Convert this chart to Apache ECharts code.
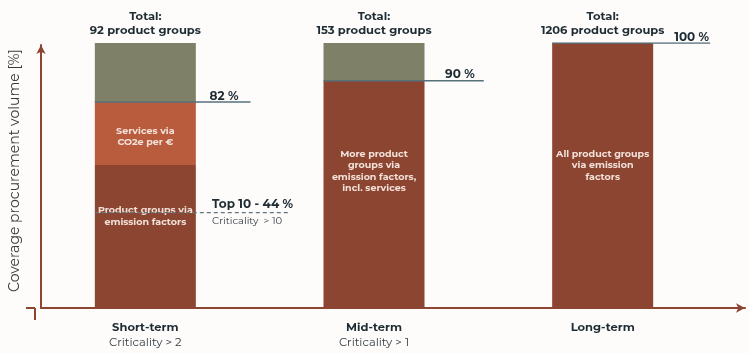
<!DOCTYPE html>
<html>
<head>
<meta charset="utf-8">
<script src="https://cdn.jsdelivr.net/npm/echarts@6/dist/echarts.min.js"></script>
<style>
html,body{margin:0;padding:0;background:#fefbfb;}
#chart{width:750px;height:353px;}
</style>
</head>
<body>
<div id="chart"></div>
<script>
// ---- data ----
const categories = ['Short-term', 'Mid-term', 'Long-term'];
const criticality = ['Criticality > 2', 'Criticality > 1', ''];
const totals = ['92 product groups', '153 product groups', '1206 product groups'];
const emissionFactors = [54, 85.8, 100];   // dark red segment (% of axis)
const servicesCO2 = [23.7, 0, 0];          // orange segment
const remaining = [22.3, 14.2, 0];         // olive segment
const emissionTexts = ['Product groups via\nemission factors', 'More product\ngroups via\nemission factors,\nincl. services', 'All product groups\nvia emission\nfactors'];
const servicesTexts = ['Services via\nCO2e per €', '', ''];
const coverageLabels = ['82 %', '90 %', '100 %'];
const coverageLevels = [77.7, 85.8, 100];
const top10Label = 'Top 10 - 44 %';
const top10Sub = 'Criticality  > 10';
const top10Level = 36;

const FONT = 'Montserrat, "Open Sans", sans-serif';
const DARK = '#1e2c33';
const C_DARK = '#8b4530', C_ORANGE = '#b95b3d', C_OLIVE = '#7f8068';
const LINE = '#56707c';

const chart = echarts.init(document.getElementById('chart'));

const lineEnds = [0.46, 1.48, 2.47];
const half = 0.221;

const series = [
  {
    type: 'bar', name: 'Product groups via emission factors', stack: 's', barWidth: 101,
    xAxisIndex: 0, yAxisIndex: 0,
    itemStyle: { color: C_DARK },
    data: emissionFactors.map((v, i) => ({
      value: v,
      label: { show: true, position: 'inside', formatter: emissionTexts[i], offset: [0, [-20, -23, -10][i]] }
    })),
    label: { color: '#f3e1da', fontFamily: FONT, fontWeight: 'bold', fontSize: 9.5, lineHeight: 11.5, align: 'center' }
  },
  {
    type: 'bar', name: 'Services via CO2e per €', stack: 's', barWidth: 101,
    xAxisIndex: 0, yAxisIndex: 0,
    itemStyle: { color: C_ORANGE },
    data: servicesCO2.map((v, i) => ({
      value: v,
      label: { show: !!servicesTexts[i], position: 'inside', formatter: servicesTexts[i], offset: [0, 3] }
    })),
    label: { color: '#f3e1da', fontFamily: FONT, fontWeight: 'bold', fontSize: 9.5, lineHeight: 11.5 }
  },
  {
    type: 'bar', name: 'Remaining', stack: 's', barWidth: 101,
    xAxisIndex: 0, yAxisIndex: 0,
    itemStyle: { color: C_OLIVE },
    data: remaining
  }
];

coverageLevels.forEach((lvl, i) => {
  series.push({
    type: 'line', xAxisIndex: 2, yAxisIndex: 0, symbol: 'circle', symbolSize: 0, showSymbol: true,
    lineStyle: { color: LINE, width: 1.5 }, z: 5,
    data: [
      [i - half, lvl],
      { value: [lineEnds[i], lvl], label: { show: true, position: 'top', distance: 0, align: 'right', offset: [[-12, -9, -1][i], 0], formatter: coverageLabels[i], fontFamily: FONT, fontWeight: 'bold', fontSize: 12, color: DARK } }
    ]
  });
});

series.push({
  type: 'line', xAxisIndex: 2, yAxisIndex: 0, symbol: 'circle', symbolSize: 0, showSymbol: true,
  lineStyle: { color: '#66767e', width: 1.3, type: [4, 3] }, z: 5,
  data: [
    [-half, top10Level],
    { value: [0.633, top10Level], label: {
      show: true, position: 'left', distance: -3, offset: [0, 0],
      formatter: '{a|' + top10Label + '}\n{b|' + top10Sub + '}',
      rich: {
        a: { fontFamily: FONT, fontWeight: 'bold', fontSize: 12, color: DARK, lineHeight: 17, align: 'left' },
        b: { fontFamily: FONT, fontSize: 10, color: '#333d42', lineHeight: 17, align: 'left' }
      }
    } }
  ]
});

chart.setOption({
  backgroundColor: '#fefbfb',
  animation: false,
  grid: [
    { left: 31, right: 33, top: 43, bottom: 45 },
    { left: 35, right: 5, top: 45, bottom: 45 }
  ],
  xAxis: [
    {
      type: 'category', gridIndex: 0, data: categories, position: 'bottom',
      axisLine: { show: false }, axisTick: { show: false },
      axisLabel: {
        margin: 12, interval: 0,
        formatter: (v, i) => '{a|' + v + '}' + (criticality[i] ? '\n{b|' + criticality[i] + '}' : ''),
        rich: {
          a: { fontFamily: FONT, fontWeight: 'bold', fontSize: 11.5, color: DARK, lineHeight: 15 },
          b: { fontFamily: FONT, fontSize: 11.5, color: '#333d42', lineHeight: 15 }
        }
      }
    },
    {
      type: 'category', gridIndex: 0, data: totals, position: 'top',
      axisLine: { show: false }, axisTick: { show: false },
      axisLabel: {
        margin: 5, interval: 0,
        formatter: v => 'Total:\n' + v,
        fontFamily: FONT, fontWeight: 'bold', fontSize: 11.5, color: DARK, lineHeight: 14
      }
    },
    { type: 'value', gridIndex: 0, min: -0.5, max: 2.5, show: false },
    {
      type: 'value', gridIndex: 1, min: 0, max: 1,
      axisLine: { show: true, lineStyle: { color: C_DARK, width: 2 }, symbol: ['none', 'arrow'], symbolSize: [7, 9] },
      axisTick: { show: false }, axisLabel: { show: false }, splitLine: { show: false }
    }
  ],
  yAxis: [
    { type: 'value', gridIndex: 0, min: 0, max: 100, show: false },
    {
      type: 'value', gridIndex: 1, min: 0, max: 1,
      name: 'Coverage procurement volume [%]', nameLocation: 'middle', nameGap: 19, nameRotate: 90,
      nameTextStyle: { fontFamily: FONT, fontSize: 14, color: '#3a3a3a', padding: [0, 0, 0, 12] },
      axisLine: { show: true, lineStyle: { color: C_DARK, width: 2 }, symbol: ['none', 'arrow'], symbolSize: [7, 9] },
      axisTick: { show: false }, axisLabel: { show: false }, splitLine: { show: false }
    }
  ],
  series: series,
  graphic: [
    { type: 'line', shape: { x1: 26, y1: 308, x2: 35, y2: 308 }, style: { stroke: C_DARK, lineWidth: 2 } },
    { type: 'line', shape: { x1: 35, y1: 308, x2: 35, y2: 320 }, style: { stroke: C_DARK, lineWidth: 2 } }
  ]
});
</script>
</body>
</html>
